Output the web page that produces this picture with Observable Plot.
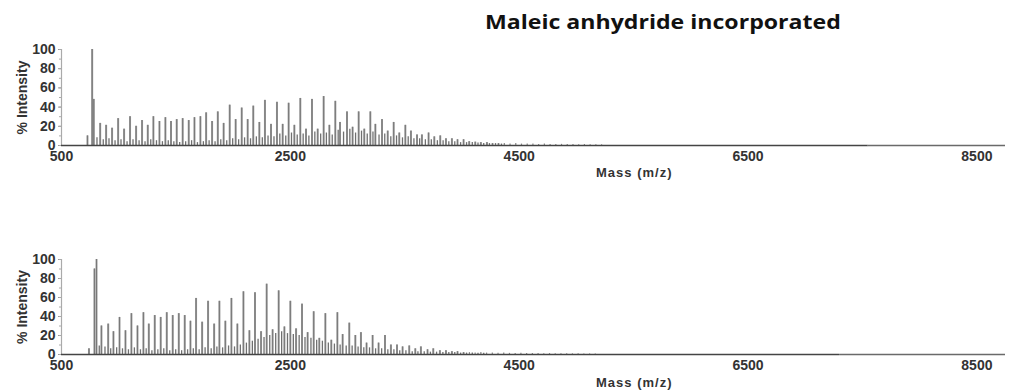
<!DOCTYPE html>
<html>
<head>
<meta charset="utf-8">
<script src="https://cdn.jsdelivr.net/npm/d3@7"></script>
<script src="https://cdn.jsdelivr.net/npm/@observablehq/plot@0.6"></script>
<style>
  html, body { margin: 0; padding: 0; background: #fff; }
  #wrap { position: relative; width: 1011px; height: 392px; overflow: hidden; font-family: "Liberation Sans", Arial, sans-serif; }
  #title { position: absolute; z-index: 5; left: 485px; top: 9px; font-family: "Open Sans", Lato, sans-serif; font-weight: 700; font-size: 20px; line-height: 26px; color: #111; white-space: nowrap; transform: scaleX(1.155); transform-origin: 0 0; }
  .xlab { position: absolute; z-index: 5; left: 596px; font-weight: 700; font-size: 13px; line-height: 13px; letter-spacing: 1px; color: #333; white-space: nowrap; }
  .panel { position: absolute; left: 0; z-index: 1; }
</style>
</head>
<body>
<div id="wrap">
  <div class="panel" id="p1" style="top:0px"></div>
  <div class="panel" id="p2" style="top:200px"></div>
  <div id="title">Maleic anhydride incorporated</div>
  <div class="xlab" style="top:166px">Mass (m/z)</div>
  <div class="xlab" style="top:376px">Mass (m/z)</div>
</div>
<script>
// ---- Data (m/z, % intensity) ----
const xTicks = [500, 2500, 4500, 6500, 8500];
const yTicks = [0, 20, 40, 60, 80, 100];
const yMinorTicks = [0, 10, 20, 30, 40, 50, 60, 70, 80, 90, 100];
const massDomain = [500, 8750];

// Top spectrum
const topMz = [727, 768, 782, 838, 890, 942, 995, 1047, 1099, 1152, 1204, 1254, 1303, 1356, 1408, 1457, 1507, 1559, 1612, 1662, 1714, 1764, 1816, 1866, 1917, 1970, 2022, 2075, 2127, 2176, 2229, 2278, 2331, 2383, 2433, 2485, 2535, 2587, 2637, 2689, 2739, 2791, 2841, 2893, 2934, 2995, 3044, 3097, 3146, 3199, 3243, 3301, 3351, 3403, 3452, 3505, 3554, 3607, 3650, 3708, 3758, 3810, 3860, 3912, 3961, 4014, 4063, 4116, 4165, 4218, 4267, 4319];
const topInt = [10, 100, 48, 23, 21, 18, 28, 17, 30, 20, 26, 21, 30, 25, 29, 25, 27, 28, 26, 29, 30, 34, 25, 35, 23, 42, 27, 39, 27, 41, 24, 47, 22, 45, 22, 44, 21, 49, 17, 48, 17, 51, 21, 46, 24, 35, 19, 35, 17, 35, 22, 27, 15, 24, 13, 21, 15, 11, 11, 13, 9, 10, 7, 7, 6, 6, 4, 3.5, 3, 3, 2, 2];
// small satellite peaks near the base
const topMinorMz = [810, 865, 915, 968, 1020, 1073, 1125, 1178, 1230, 1280, 1330, 1382, 1433, 1482, 1533, 1585, 1637, 1688, 1740, 1790, 1842, 1892, 1944, 1996, 2048, 2100, 2152, 2203, 2255, 2305, 2357, 2408, 2460, 2510, 2560, 2612, 2662, 2714, 2765, 2815, 2866, 2918, 2965, 3020, 3070, 3122, 3172, 3222, 3275, 3325, 3378, 3428, 3480, 3530, 3580, 3630, 3680, 3732, 3785, 3835, 3885, 3937, 3988, 4040, 4090, 4140, 4190, 4240, 4293, 4345];
const topMinorInt = [8, 6, 7, 5, 6, 4, 6, 5, 4, 6, 5, 4, 5, 4, 3, 4, 5, 3, 4, 5, 4, 6, 5, 7, 6, 8, 7, 9, 8, 10, 9, 12, 10, 13, 11, 12, 10, 14, 12, 13, 11, 16, 14, 17, 13, 15, 12, 14, 11, 12, 9, 10, 8, 9, 7, 7, 6, 6, 5, 5, 4, 4, 3, 3, 3, 2.5, 2, 2, 2, 1.5];
const topNoiseMz = [4370, 4420, 4470, 4520, 4570, 4620, 4670, 4720, 4770, 4820, 4870, 4920, 4970, 5020, 5070, 5120, 5170, 5220];
const topNoiseInt = [2, 1.5, 2, 1.5, 1.5, 1.5, 1, 1.5, 1, 1, 1.2, 1, 1, 0.8, 1, 0.8, 0.8, 0.7];
const topBaseDark = [500, 7550];   // m/z span of the thicker baseline
const topBaseLight = [7550, 8750]; // m/z span of the thin baseline

// Bottom spectrum
const botMz = [740, 788, 806, 849, 908, 954, 1007, 1059, 1111, 1164, 1216, 1263, 1315, 1367, 1420, 1472, 1525, 1577, 1627, 1676, 1729, 1781, 1834, 1880, 1932, 1985, 2037, 2090, 2142, 2191, 2244, 2293, 2345, 2398, 2448, 2500, 2550, 2602, 2651, 2704, 2753, 2806, 2858, 2911, 2957, 3015, 3068, 3117, 3166, 3219, 3271, 3327, 3379, 3432, 3481, 3539, 3592, 3641, 3699, 3749, 3807, 3860, 3912, 3961, 4014];
const botInt = [6, 90, 100, 30, 32, 24, 39, 25, 43, 30, 44, 32, 41, 39, 44, 41, 43, 41, 35, 59, 34, 56, 32, 56, 35, 59, 32, 66, 25, 65, 24, 74, 26, 67, 29, 56, 27, 53, 23, 45, 17, 43, 15, 44, 21, 33, 20, 23, 12, 20, 12, 20, 10, 10, 8, 9, 6, 8, 5, 6, 4, 4, 3, 3, 2];
const botMinorMz = [830, 880, 930, 982, 1033, 1085, 1137, 1190, 1240, 1290, 1342, 1394, 1446, 1498, 1550, 1602, 1652, 1703, 1755, 1808, 1858, 1908, 1960, 2012, 2063, 2116, 2168, 2218, 2270, 2320, 2372, 2424, 2475, 2526, 2577, 2628, 2680, 2730, 2780, 2832, 2885, 2935, 2988, 3040, 3092, 3142, 3192, 3245, 3298, 3352, 3405, 3456, 3510, 3565, 3615, 3670, 3724, 3778, 3833, 3885, 3937, 3988, 4040, 4090, 4140, 4190];
const botMinorInt = [9, 8, 6, 7, 6, 5, 7, 5, 6, 4, 5, 6, 4, 5, 4, 5, 6, 5, 7, 6, 8, 7, 9, 8, 10, 12, 14, 16, 18, 20, 22, 24, 22, 21, 20, 18, 17, 15, 14, 12, 11, 10, 9, 9, 8, 7, 7, 6, 6, 5, 5, 4, 4, 3, 3, 3, 2.5, 2.5, 2, 2, 2, 1.5, 1.5, 1.5, 1.2, 1.2];
const botNoiseMz = [4065, 4115, 4165, 4215, 4265, 4315, 4365, 4415, 4465, 4515, 4565, 4615, 4665, 4715, 4765, 4815, 4865, 4915, 4965, 5015, 5065, 5115, 5165];
const botNoiseInt = [2, 1.5, 2, 1.5, 1.5, 1.2, 1.5, 1.2, 1, 1.2, 1, 1, 1, 0.8, 1, 0.8, 0.8, 0.8, 0.7, 0.7, 0.6, 0.6, 0.5];
const botBaseDark = [500, 7300];
const botBaseLight = [7300, 8750];

function rows(mz, val) { return mz.map((m, i) => ({mz: m, v: val[i]})); }

function spectrum(major, minor, noise, dark, light, height, mt, mb) {
  return Plot.plot({
    width: 1011,
    height,
    marginLeft: 61,
    marginRight: 6,
    marginTop: mt,
    marginBottom: mb,
    style: {fontFamily: "'Liberation Sans', Arial, sans-serif", background: "transparent", overflow: "visible"},
    x: {domain: massDomain},
    y: {domain: [0, 100]},
    marks: [
      Plot.axisY({ticks: yTicks, tickSize: 3, tickPadding: 3, stroke: "#999", fontSize: 14, fontWeight: "bold", fill: "#333",
        label: "% Intensity", labelAnchor: "center", labelArrow: "none", labelOffset: 44}),
      Plot.axisY({ticks: yMinorTicks, tickSize: 2, text: null, stroke: "#aaa", label: null}),
      Plot.axisX({ticks: xTicks, tickSize: 0, tickPadding: 6, tickFormat: d => String(d), fontSize: 14, fontWeight: "bold", fill: "#333", label: null}),
      Plot.ruleX([massDomain[0]], {y1: 0, y2: 100, stroke: "#aaa", strokeWidth: 1.2}),
      Plot.ruleY([0], {x1: light[0], x2: light[1], stroke: "#6a6a6a", strokeWidth: 1.5}),
      Plot.ruleX(noise, {x: "mz", y1: 0, y2: "v", stroke: "#888", strokeWidth: 1.2}),
      Plot.ruleX(minor, {x: "mz", y1: 0, y2: "v", stroke: "#707070", strokeWidth: 1.3}),
      Plot.ruleX(major, {x: "mz", y1: 0, y2: "v", stroke: "#9a9a9a", strokeWidth: 2}),
      Plot.ruleX(major, {x: "mz", y1: 0, y2: "v", stroke: "#707070", strokeWidth: 0.8}),
      Plot.ruleY([0], {x1: dark[0], x2: dark[1], stroke: "#444", strokeWidth: 1.6})
    ]
  });
}

document.getElementById("p1").appendChild(
  spectrum(rows(topMz, topInt), rows(topMinorMz, topMinorInt), rows(topNoiseMz, topNoiseInt), topBaseDark, topBaseLight, 200, 49, 55));
document.getElementById("p2").appendChild(
  spectrum(rows(botMz, botInt), rows(botMinorMz, botMinorInt), rows(botNoiseMz, botNoiseInt), botBaseDark, botBaseLight, 192, 59, 38));
</script>
</body>
</html>
